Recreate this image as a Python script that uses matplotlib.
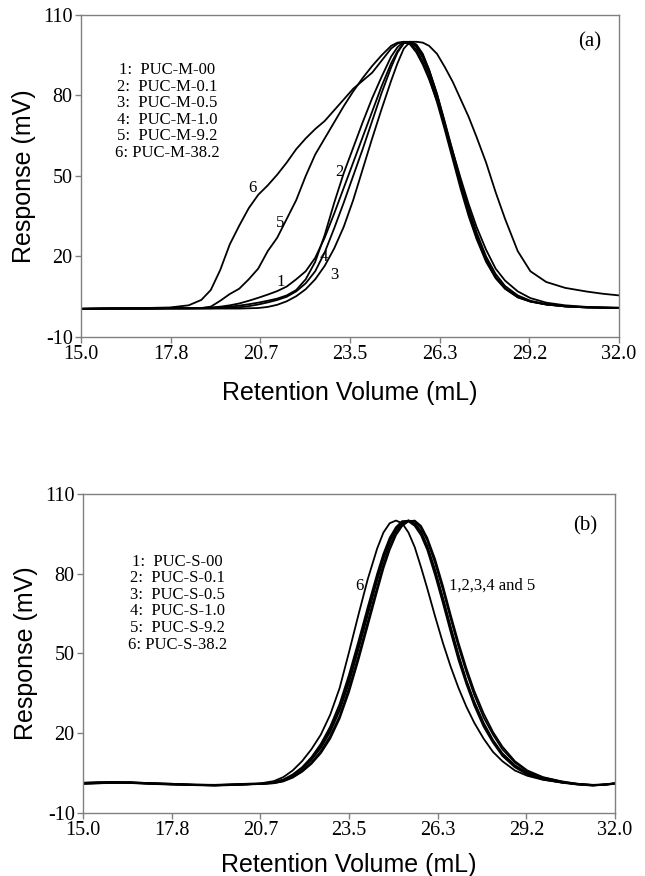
import matplotlib
matplotlib.use("Agg")
import matplotlib.pyplot as plt

# ---------------- data ----------------
TOP_X = [15.0, 16.0, 17.0, 17.8, 18.4, 18.8, 19.1, 19.4, 19.7, 20.0, 20.3, 20.6, 20.9, 21.2,
         21.5, 21.8, 22.1, 22.4, 22.7, 23.0, 23.3, 23.6, 23.9, 24.2, 24.5, 24.8, 25.0, 25.2,
         25.4, 25.6, 25.8, 26.0, 26.25, 26.5, 26.75, 27.0, 27.25, 27.5, 27.8, 28.1, 28.4,
         28.8, 29.2, 29.7, 30.3, 31.0, 31.5, 32.0]

M_00 = [0.5, 0.6, 0.6, 0.7, 0.7, 0.8, 1.0, 1.3, 1.8, 2.5, 3.5, 4.6, 5.8, 7.1,
        8.8, 11.5, 14.5, 19.5, 27, 36, 45.5, 55, 64.5, 74, 83.5, 92, 96.5, 99.5,
        100, 98.5, 95, 89.5, 80.5, 69.5, 58, 46.5, 36, 27, 18.5, 12, 8,
        4.8, 3.2, 2.1, 1.4, 1.0, 0.9, 0.8]
M_01 = [0.5, 0.6, 0.6, 0.7, 0.7, 0.7, 0.8, 1.0, 1.3, 1.7, 2.2, 2.8, 3.5, 4.3,
        5.5, 7.5, 11.5, 18, 28, 40, 51, 60.5, 70, 79, 87, 94.5, 98, 100,
        99.5, 97, 92.5, 86.5, 77.5, 67, 56, 45, 35, 26.5, 18, 12, 8,
        4.8, 3.2, 2.1, 1.4, 1.0, 0.9, 0.8]
M_05 = [0.5, 0.6, 0.6, 0.6, 0.6, 0.6, 0.6, 0.6, 0.6, 0.6, 0.7, 0.8, 1.2, 2.0,
        3.3, 5.2, 7.8, 11.5, 16.5, 23, 31, 41, 52.5, 64, 75, 85.5, 92, 97.5,
        100, 99, 95.5, 89.5, 80.5, 70, 59, 48, 38, 29, 20, 13.5, 9,
        5.5, 3.5, 2.2, 1.4, 1.0, 0.9, 0.8]
M_10 = [0.5, 0.6, 0.6, 0.7, 0.7, 0.7, 0.7, 0.8, 0.9, 1.1, 1.5, 2.1, 2.9, 3.8,
        5.0, 7.0, 10, 14.5, 21.5, 30.5, 40, 50, 60, 70.5, 81, 90.5, 96, 99.5,
        100, 98, 94, 88, 79, 68.5, 57.5, 46.5, 36.5, 27.5, 19, 12.5, 8.2,
        5.0, 3.3, 2.2, 1.5, 1.1, 1.0, 0.9]
M_92 = [0.5, 0.6, 0.6, 0.7, 0.7, 0.8, 1.3, 3.5, 6, 8, 11.5, 15.5, 22, 27,
        34, 41, 50, 58, 64, 70, 76, 81.5, 86.5, 91, 95, 98.5, 99.7, 100,
        99, 96, 91.5, 86, 78, 69, 59, 49, 39.5, 31, 22.5, 15.5, 11,
        7, 4.5, 2.8, 1.8, 1.2, 1.0, 0.9]
M_382 = [0.5, 0.7, 0.8, 1.0, 1.8, 3.8, 7.5, 15, 24.5, 31.5, 38, 43, 46.5, 50.5,
         55, 60, 64, 67.5, 70.5, 74.5, 78.5, 82.5, 85.5, 88.5, 93, 97.5, 99.3, 100,
         100, 100, 99.7, 98.5, 95.5, 90.5, 85, 78.5, 72, 64.5, 55, 44, 34,
         22, 14.5, 10.5, 8.3, 6.9, 6.1, 5.5]

BOT_X = [15.0, 15.5, 16.0, 16.5, 17.0, 17.8, 18.5, 19.2, 20.0, 20.7, 21.1, 21.4, 21.7, 22.0,
         22.3, 22.6, 22.9, 23.2, 23.5, 23.8, 24.1, 24.4, 24.6, 24.8, 25.0, 25.2, 25.4, 25.6,
         25.8, 26.0, 26.25, 26.5, 26.75, 27.0, 27.25, 27.5, 27.8, 28.1, 28.4, 28.8, 29.2,
         29.7, 30.3, 30.8, 31.3, 31.7, 32.0]

S_00 = [1.2, 1.4, 1.5, 1.4, 1.2, 0.9, 0.6, 0.4, 0.7, 1.0, 1.4, 2.3, 4, 6.5,
        10, 14.5, 20.5, 28.5, 39, 51.5, 64.5, 77.5, 85.5, 92, 96.5, 99.3, 100, 99,
        96, 90.5, 81.5, 71, 60, 49.5, 40, 32, 24, 17.5, 12.5, 8, 5,
        3, 1.6, 0.8, 0.4, 0.8, 1.2]
S_01 = [1.4, 1.6, 1.7, 1.5, 1.2, 0.8, 0.5, 0.3, 0.6, 1.1, 1.6, 2.6, 4.5, 7.2,
        11, 16, 22.5, 31, 42, 54.5, 67.5, 80, 87.5, 93.5, 97.5, 99.8, 99.7, 98,
        94.5, 89, 79.5, 69, 58, 47.5, 38.5, 30.5, 22.5, 16.5, 11.5, 7.2, 4.5,
        2.6, 1.4, 0.7, 0.3, 0.7, 1.1]
S_05 = [1.0, 1.2, 1.3, 1.3, 1.0, 0.7, 0.5, 0.5, 0.8, 0.9, 1.2, 1.9, 3.3, 5.5,
        8.5, 12.5, 18, 25.5, 35.5, 47.5, 60.5, 73.5, 82, 89, 94.5, 98, 99.7, 100,
        98, 93.5, 85.5, 75.5, 64.5, 54, 44.5, 36, 27.5, 20.5, 15, 9.5, 6,
        3.5, 1.9, 1.0, 0.5, 0.6, 1.0]
S_10 = [1.3, 1.5, 1.6, 1.5, 1.3, 1.0, 0.7, 0.5, 0.7, 1.0, 1.5, 2.4, 4.2, 6.8,
        10.5, 15.2, 21.5, 29.5, 40.5, 53, 66, 78.5, 86.5, 92.5, 97, 99.5, 100, 98.5,
        95.5, 90, 81, 70.5, 59.5, 49, 39.5, 31.5, 23.5, 17, 12, 7.6, 4.8,
        2.8, 1.5, 0.8, 0.4, 0.7, 1.1]
S_92 = [1.1, 1.3, 1.4, 1.4, 1.1, 0.8, 0.6, 0.4, 0.7, 0.9, 1.3, 2.0, 3.5, 5.8,
        9, 13.3, 19, 26.5, 37, 49, 62, 75, 83.5, 90.5, 95.5, 98.7, 100, 99.7,
        97.2, 92.5, 84, 74, 63, 52.5, 43, 34.5, 26, 19.5, 14, 9, 5.6,
        3.3, 1.8, 0.9, 0.5, 0.7, 1.1]
S_382 = [1.0, 1.2, 1.4, 1.6, 1.3, 1.0, 0.7, 0.6, 0.9, 1.2, 2.0, 3.5, 6, 9.5,
         14, 19.5, 27, 37, 50.5, 64.5, 78, 89.5, 95.5, 99, 100, 99, 95.5, 90,
         82.5, 74.5, 64, 54, 45, 37, 30, 24, 18, 13, 9.5, 6, 4,
         2.5, 1.5, 1.0, 0.6, 0.8, 1.2]

X_TICKS = [15.0, 17.8333, 20.6667, 23.5, 26.3333, 29.1667, 32.0]
X_TICK_LABELS = ["15.0", "17.8", "20.7", "23.5", "26.3", "29.2", "32.0"]
Y_TICKS = [-10, 20, 50, 80, 110]
Y_TICK_LABELS = ["-10", "20", "50", "80", "110"]

TOP_LEGEND = ["1:  PUC-M-00", "2:  PUC-M-0.1", "3:  PUC-M-0.5",
              "4:  PUC-M-1.0", "5:  PUC-M-9.2", "6: PUC-M-38.2"]
BOT_LEGEND = ["1:  PUC-S-00", "2:  PUC-S-0.1", "3:  PUC-S-0.5",
              "4:  PUC-S-1.0", "5:  PUC-S-9.2", "6: PUC-S-38.2"]

# curve number labels: (text, x, y)
TOP_CURVE_LABELS = [("6", 20.43, 45.5), ("5", 21.3, 32.5), ("2", 23.17, 51.5),
                    ("4", 22.67, 19.9), ("1", 21.3, 10.4), ("3", 23.0, 13.1)]
BOT_CURVE_LABELS = [("6", 23.82, 75.4, "center"), ("1,2,3,4 and 5", 26.7, 75.4, "left")]

# ---------------- figure ----------------
SERIF = ["Liberation Serif", "DejaVu Serif"]
SANS = ["Liberation Sans", "DejaVu Sans"]
GRAY = "#808080"

fig = plt.figure(figsize=(6.45, 8.76), dpi=100)
ax1 = fig.add_axes([0.1256, 0.6153, 0.8341, 0.3676])
ax2 = fig.add_axes([0.1287, 0.0719, 0.8248, 0.3642])


def style(ax, xpad):
    ax.set_xlim(15.0, 32.0)
    ax.set_ylim(-10, 110)
    ax.set_xticks(X_TICKS)
    ax.set_xticklabels(X_TICK_LABELS, fontfamily=SERIF, fontsize=14.5)
    ax.set_yticks(Y_TICKS)
    ax.set_yticklabels(Y_TICK_LABELS, fontfamily=SERIF, fontsize=14.5)
    for s in ax.spines.values():
        s.set_color(GRAY)
        s.set_linewidth(1.0)
    ax.tick_params(direction="out", length=4, width=1, color=GRAY, pad=2)
    ax.set_xlabel("Retention Volume (mL)", fontfamily=SANS, fontsize=18, labelpad=xpad)
    ax.set_ylabel("Response (mV)", fontfamily=SANS, fontsize=18, labelpad=5)


for ys in [M_00, M_01, M_05, M_10, M_92, M_382]:
    ax1.plot(TOP_X, ys, color="black", lw=1.3)
for ys in [S_00, S_01, S_05, S_10, S_92, S_382]:
    ax2.plot(BOT_X, ys, color="black", lw=1.3)

style(ax1, 12)
style(ax2, 9)

ax1.text(0.16, 0.70, "\n".join(TOP_LEGEND), transform=ax1.transAxes, ha="center",
         va="center", multialignment="center", fontfamily=SERIF, fontsize=12,
         linespacing=1.05)
ax2.text(0.177, 0.658, "\n".join(BOT_LEGEND), transform=ax2.transAxes, ha="center",
         va="center", multialignment="center", fontfamily=SERIF, fontsize=12,
         linespacing=1.05)

for t, x, y in TOP_CURVE_LABELS:
    ax1.text(x, y, t, ha="center", va="center", fontfamily=SERIF, fontsize=12)
for t, x, y, ha in BOT_CURVE_LABELS:
    ax2.text(x, y, t, ha=ha, va="center", fontfamily=SERIF, fontsize=12)

ax1.text(0.946, 0.916, "(a)", transform=ax1.transAxes, ha="center", va="center",
         fontfamily=SERIF, fontsize=15)
ax2.text(0.944, 0.90, "(b)", transform=ax2.transAxes, ha="center", va="center",
         fontfamily=SERIF, fontsize=15)

fig.savefig("out.png", dpi=100)
